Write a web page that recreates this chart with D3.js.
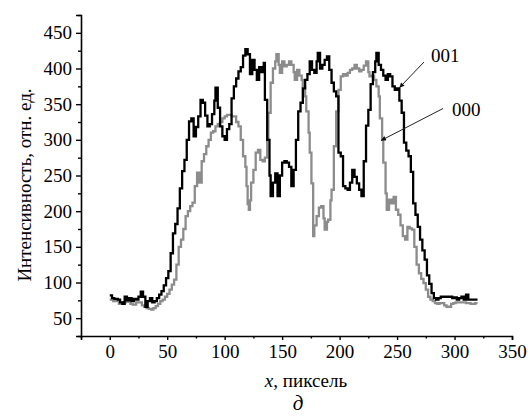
<!DOCTYPE html>
<html><head><meta charset="utf-8">
<script src="https://cdn.jsdelivr.net/npm/d3@7"></script>
<style>
html,body{margin:0;padding:0;background:#fff;}
svg{display:block;}
</style></head>
<body>
<svg id="chart" width="528" height="416"></svg>
<script>
// ---- data ----
const xTicks = [0, 50, 100, 150, 200, 250, 300, 350];
const yTicks = [50, 100, 150, 200, 250, 300, 350, 400, 450];
const yLabel = "Интенсивность, отн. ед.";
const xLabelItalic = "x";
const xLabelRest = ", пиксель";
const panelLabel = "д";
const seriesNames = ["001", "000"];

const series001 = [[0,82],[2,78],[4,77],[7,76],[9,72],[11,70],[13,80],[15,75],[17,78],[19,74],[21,77],[23,76],[25,80],[27,87],[29,80],[31,66],[33,74],[35,78],[37,72],[39,74],[41,78],[43,83],[45,88],[47,96],[49,106],[51,116],[53,141],[55,169],[57,182],[59,204],[61,232],[63,256],[65,272],[67,300],[69,326],[71,330],[73,305],[75,318],[77,333],[79,356],[81,352],[83,334],[85,319],[87,322],[89,336],[91,355],[92,373],[94,345],[96,319],[98,305],[100,300],[102,315],[104,322],[106,358],[108,375],[110,386],[112,396],[114,402],[116,418],[118,427],[120,420],[122,392],[124,412],[126,398],[128,384],[130,402],[132,395],[134,408],[135,356],[137,300],[139,250],[140,221],[142,240],[144,253],[146,221],[148,250],[150,268],[152,270],[154,268],[156,262],[158,235],[160,258],[162,300],[164,340],[166,352],[168,372],[170,384],[172,392],[174,410],[176,398],[178,394],[180,410],[181,422],[183,400],[185,405],[187,412],[189,417],[191,398],[193,380],[195,368],[197,361],[199,282],[201,277],[203,235],[205,232],[207,230],[209,240],[211,258],[213,248],[215,239],[217,230],[219,221],[221,270],[223,320],[225,342],[227,378],[229,395],[231,410],[232,422],[234,405],[236,398],[238,390],[240,384],[242,392],[244,389],[246,375],[248,370],[250,372],[252,355],[254,338],[256,296],[258,285],[260,277],[262,255],[264,211],[266,195],[268,178],[270,160],[272,145],[274,132],[276,110],[278,98],[280,85],[282,78],[284,76],[286,78],[288,80],[290,80],[292,80],[294,80],[296,80],[298,78],[300,79],[302,76],[304,78],[306,80],[308,76],[310,83],[312,76],[314,76],[316,76],[318,76],[320,76]];

const series000 = [[0,76],[3,74],[5,74],[8,70],[11,72],[14,74],[16,73],[18,70],[20,69],[23,72],[26,72],[28,68],[30,66],[32,64],[34,63],[36,62],[38,64],[40,67],[42,70],[44,74],[46,76],[48,80],[50,84],[52,90],[54,97],[56,104],[58,125],[60,150],[62,160],[64,175],[66,193],[68,200],[70,207],[72,212],[74,235],[76,254],[78,240],[80,270],[82,280],[84,291],[86,300],[88,310],[90,312],[92,319],[94,322],[96,325],[98,330],[100,333],[102,335],[104,335],[106,333],[108,333],[110,325],[112,319],[114,300],[116,277],[118,262],[119,235],[120,210],[121,202],[122,215],[123,240],[125,258],[127,282],[129,286],[131,272],[133,270],[135,275],[137,300],[138,338],[140,380],[142,400],[144,410],[145,420],[147,405],[148,394],[150,410],[152,403],[154,405],[156,410],[158,405],[160,395],[161,384],[163,398],[165,390],[167,384],[168,375],[170,361],[171,340],[173,310],[174,282],[175.5,239],[177,165],[178,180],[180,193],[182,205],[184,207],[186,190],[187,174],[189,185],[190,188],[192,215],[193,230],[195,291],[197,340],[199,370],[201,389],[203,392],[205,390],[207,394],[209,398],[211,400],[213,405],[215,400],[217,396],[219,398],[221,404],[223,410],[225,395],[226,389],[228,390],[230,384],[232,375],[234,361],[235,330],[237,300],[238,268],[240,225],[241,202],[243,216],[245,211],[247,220],[249,202],[251,195],[253,180],[255,165],[257,160],[259,178],[261,176],[263,174],[265,150],[267,125],[269,113],[271,105],[273,99],[275,90],[277,80],[279,76],[281,74],[283,71],[285,70],[287,71],[289,71],[291,68],[293,66],[295,66],[297,70],[299,71],[301,72],[303,72],[306,72],[310,71],[314,70],[318,71],[320,71]];

// ---- layout ----
const FONT = "'Liberation Serif', 'DejaVu Serif', 'Noto Serif', serif";
const svg = d3.select("#chart");
const x = d3.scaleLinear().domain([-25, 350]).range([81, 512]);
const y = d3.scaleLinear().domain([25, 475]).range([336, 15]);

const xMinor = d3.range(-25, 351, 25).filter(v => v % 50 !== 0);
const yMinor = d3.range(25, 476, 25).filter(v => v % 50 !== 0);

// axes
const gx = svg.append("g").attr("transform", `translate(0,${y(25)})`)
  .call(d3.axisBottom(x).tickValues(xTicks).tickSize(4).tickPadding(4).tickFormat(d3.format("d")));
const gxm = svg.append("g").attr("transform", `translate(0,${y(25)})`)
  .call(d3.axisBottom(x).tickValues(xMinor).tickSize(2.5).tickFormat(""));
const gy = svg.append("g").attr("transform", `translate(${x(-25)},0)`)
  .call(d3.axisLeft(y).tickValues(yTicks).tickSize(5).tickPadding(4).tickFormat(d3.format("d")));
const gym = svg.append("g").attr("transform", `translate(${x(-25)},0)`)
  .call(d3.axisLeft(y).tickValues(yMinor).tickSize(3).tickFormat(""));

[gx, gxm, gy, gym].forEach(g => {
  g.attr("font-family", null);
  g.select(".domain").attr("stroke", "#000").attr("stroke-width", 1.6);
  g.selectAll(".tick line").attr("stroke", "#000").attr("stroke-width", 1.4);
  g.selectAll(".tick text").style("font-family", FONT).style("font-size", "19px").attr("fill", "#000");
});
gx.selectAll(".tick text").attr("dy", "0.72em");
gxm.select(".domain").remove();
gym.select(".domain").remove();

// lines
const line = d3.line().x(d => x(d[0])).y(d => y(d[1])).curve(d3.curveStepAfter);
svg.append("path").datum(series000).attr("d", line)
  .attr("fill", "none").attr("stroke", "#8c8c8c").attr("stroke-width", 2.3).attr("stroke-linejoin", "miter");
svg.append("path").datum(series001).attr("d", line)
  .attr("fill", "none").attr("stroke", "#000").attr("stroke-width", 2.3).attr("stroke-linejoin", "miter");

// annotations (arrows)
const defs = svg.append("defs");
defs.append("marker").attr("id", "ah").attr("viewBox", "0 0 10 10").attr("refX", 10).attr("refY", 5)
  .attr("markerWidth", 7).attr("markerHeight", 5).attr("orient", "auto")
  .append("path").attr("d", "M0,0L10,5L0,10z").attr("fill", "#111");

const ann = [
  {name: seriesNames[0], tx: 431, ty: 62, from: [424, 62], to: [252, 373]},
  {name: seriesNames[1], tx: 452, ty: 116, from: [443, 108.5], to: [236, 299]}
];
ann.forEach(a => {
  svg.append("line").attr("x1", a.from[0]).attr("y1", a.from[1])
    .attr("x2", x(a.to[0])).attr("y2", y(a.to[1]))
    .attr("stroke", "#222").attr("stroke-width", 1).attr("marker-end", "url(#ah)");
  svg.append("text").attr("x", a.tx).attr("y", a.ty)
    .style("font-family", FONT).style("font-size", "19px").text(a.name);
});

// axis labels
svg.append("text").attr("transform", "translate(31,185) rotate(-90)")
  .attr("text-anchor", "middle").style("font-family", FONT).style("font-size", "19px").text(yLabel);
const xl = svg.append("text").attr("x", 306).attr("y", 387).attr("text-anchor", "middle")
  .style("font-family", FONT).style("font-size", "19px");
xl.append("tspan").style("font-style", "italic").text(xLabelItalic);
xl.append("tspan").text(xLabelRest);
svg.append("text").attr("x", 298).attr("y", 410).attr("text-anchor", "middle")
  .style("font-family", FONT).style("font-size", "21px").style("font-style", "italic").text(panelLabel);
</script>
</body></html>
